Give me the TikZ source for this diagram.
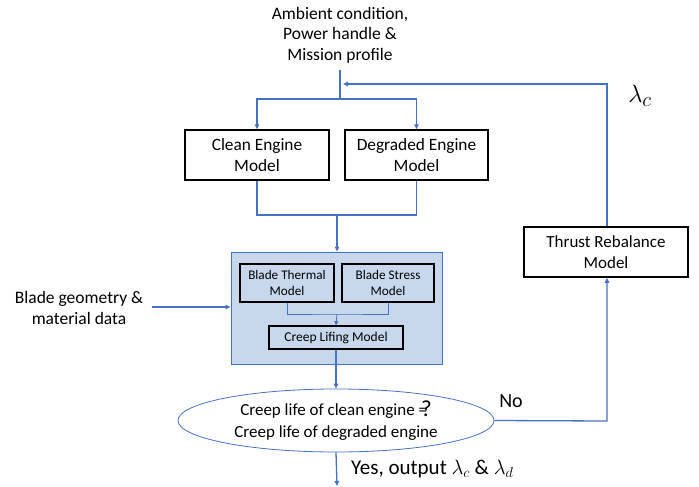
\documentclass[tikz,border=0pt]{standalone}
\usepackage{fontspec}
\setmainfont{Carlito}
\usetikzlibrary{arrows.meta,shapes.geometric}
\definecolor{lineblue}{RGB}{68,114,196}
\definecolor{boxfill}{RGB}{200,216,236}
\begin{document}
\begin{tikzpicture}[x=1pt,y=-1pt,
  conn/.style={draw=lineblue,line width=1.3pt},
  arr/.style={conn,-{Triangle[length=5pt,width=4.5pt]}},
  bigbox/.style={draw=black,line width=1.5pt,fill=white,align=center,inner sep=0pt,font=\fontsize{17.3}{21}\selectfont},
  smallbox/.style={draw=black,line width=1.5pt,align=center,inner sep=0pt,font=\fontsize{13.2}{16.5}\selectfont},
  plain/.style={align=center,inner sep=0pt}]
\useasboundingbox (0,0) rectangle (699,487);
% top input
\node[plain,font=\fontsize{17.5}{20.5}\selectfont] (amb) at (340,35) {Ambient condition,\\Power handle \&\\Mission profile};
\coordinate (top) at (340,70);
\coordinate (split) at (340,99);
\node[bigbox,minimum width=144,minimum height=50] (clean) at (257,155) {Clean Engine\\Model};
\node[bigbox,minimum width=143,minimum height=50] (degr) at (416.5,155) {Degraded Engine\\Model};
\draw[conn] (top) -- (split);
\draw[arr] (split) -| (clean.north);
\draw[arr] (split) -| (degr.north);
% joining
\coordinate (join) at (337,215);
\node[draw=lineblue,line width=0.8pt,fill=boxfill,minimum width=211,minimum height=112,inner sep=0pt] (cover) at (336.5,308) {};
\draw[conn] (clean.south) |- (join);
\draw[conn] (degr.south) |- (join);
\draw[arr] (join) -- (join |- cover.north);
% inner boxes
\node[smallbox,minimum width=94,minimum height=38] (therm) at (287,283) {Blade Thermal\\Model};
\node[smallbox,minimum width=92,minimum height=38] (stress) at (388,283) {Blade Stress\\Model};
\node[smallbox,minimum width=134,minimum height=23,font=\fontsize{13.5}{15}\selectfont] (creep) at (336,337.5) {Creep Lifing Model};
\coordinate (ij) at (337,314);
\draw[draw=lineblue,line width=0.8pt] (therm.south) |- (ij) -| (stress.south);
\draw[draw=lineblue,line width=0.8pt,-{Triangle[length=4pt,width=4pt]}] (ij) -- (creep.north);
% blade geometry
\node[plain,font=\fontsize{17.5}{20.5}\selectfont] (geom) at (79,308) {Blade geometry \&\\material data};
\coordinate (geomend) at (152,307);
\draw[arr] (geomend) -- (cover.west |- geomend);
% decision
\node[ellipse,draw=lineblue,line width=0.8pt,minimum width=316,minimum height=63,inner sep=0pt,align=center,font=\fontsize{17}{22}\selectfont] (dec) at (336,420.5) {Creep life of clean engine =\kern-6pt\raisebox{-1pt}{\fontsize{23}{23}\selectfont ?}\\Creep life of degraded engine};
\draw[arr] (creep.south) -- (creep.south |- dec.north);
\coordinate (outend) at (337,486);
\draw[arr] (dec.south) -- (outend);
\node[anchor=west,inner sep=0pt,font=\fontsize{21}{24}\selectfont] (yes) at (351,469) {Yes, output $\lambda_c$ \& $\lambda_d$};
\node[inner sep=0pt,font=\fontsize{20}{22}\selectfont] (no) at (511,401) {No};
% thrust rebalance
\node[bigbox,minimum width=164,minimum height=50,font=\fontsize{17}{21}\selectfont] (thrust) at (606,252) {Thrust Rebalance\\Model};
\coordinate (nocorner) at (607,421);
\draw[arr] (dec.east) -- (nocorner) -- (thrust.south -| nocorner);
\coordinate (fbcorner) at (607,84);
\coordinate (fbend) at (343,84);
\draw[arr] (thrust.north -| fbcorner) -- (fbcorner) -- (fbend);
\node[inner sep=0pt,font=\fontsize{32}{32}\selectfont] (lam) at (640,96) {$\lambda_c$};
\end{tikzpicture}
\end{document}
